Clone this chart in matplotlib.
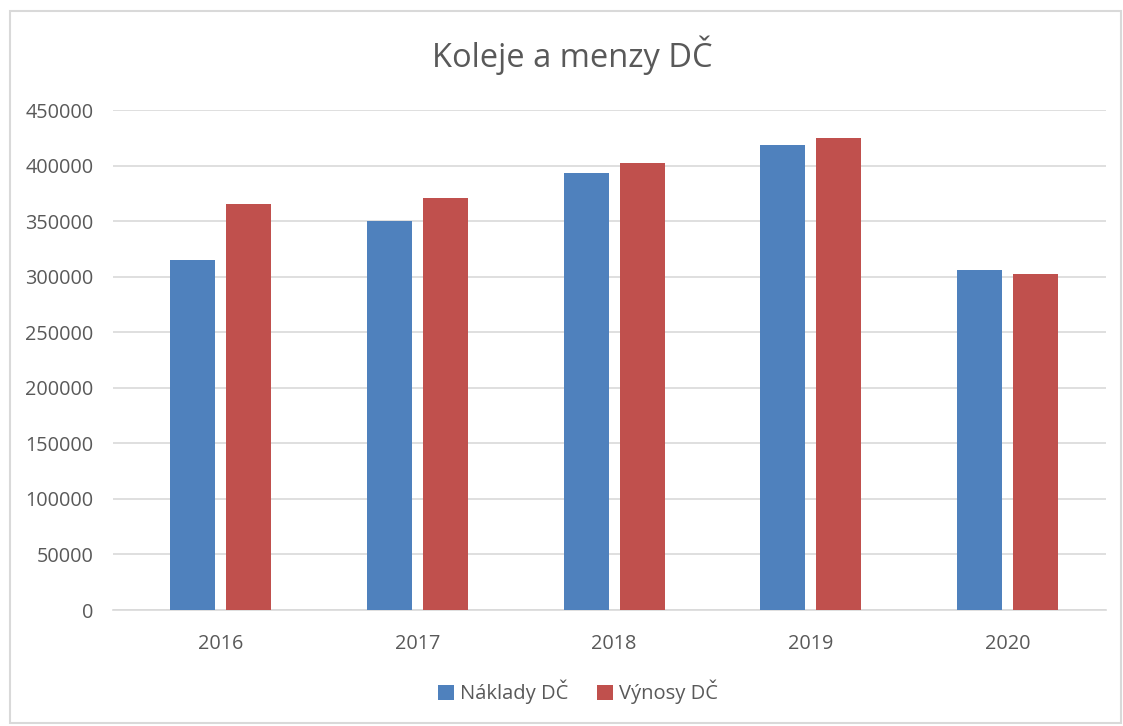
import matplotlib.pyplot as plt
import numpy as np
from matplotlib.patches import Rectangle

years = ['2016', '2017', '2018', '2019', '2020']
naklady = [314800, 350300, 393700, 418100, 306000]
vynosy = [365600, 370800, 402200, 424400, 302400]

plt.rcParams['font.family'] = ['Open Sans', 'DejaVu Sans']
txt_color = '#595959'

fig = plt.figure(figsize=(11.23, 7.26), dpi=100)
ax = fig.add_axes([113 / 1123, 1 - 610 / 726, (1106 - 113) / 1123, (610 - 110) / 726])

x = np.arange(len(years))
w = 0.229
off = 0.142
ax.bar(x - off, naklady, w, color='#4F81BD', label='Náklady DČ', zorder=3)
ax.bar(x + off, vynosy, w, color='#C0504D', label='Výnosy DČ', zorder=3)

ax.set_xlim(-0.547, 4.5)
ax.set_ylim(0, 450000)
ax.set_yticks(np.arange(0, 450001, 50000))
ax.set_xticks(x)
ax.set_xticklabels(years)
ax.grid(axis='y', color='#D9D9D9', linewidth=1.2, zorder=0)
for s in ['top', 'right', 'left']:
    ax.spines[s].set_visible(False)
ax.spines['bottom'].set_color('#D9D9D9')
ax.spines['bottom'].set_linewidth(1.2)
ax.tick_params(axis='both', length=0, labelsize=14.3, labelcolor=txt_color)
ax.tick_params(axis='y', pad=14)
ax.tick_params(axis='x', pad=17)

fig.text(572 / 1123, 1 - 55 / 726, 'Koleje a menzy DČ', ha='center', va='center',
         fontsize=23.5, color=txt_color)

fig.legend(loc='center', bbox_to_anchor=(578 / 1123, 1 - 692 / 726), ncol=2, frameon=False,
           fontsize=14.5, labelcolor=txt_color, handlelength=0.8, handleheight=0.8,
           handletextpad=0.3, columnspacing=1.4)

fig.patches.append(Rectangle((10 / 1123, 3 / 726), 1 - 12 / 1123, 1 - 14 / 726,
                             transform=fig.transFigure, fill=False,
                             edgecolor='#D9D9D9', linewidth=1.5))

fig.savefig('out.png', dpi=100)
